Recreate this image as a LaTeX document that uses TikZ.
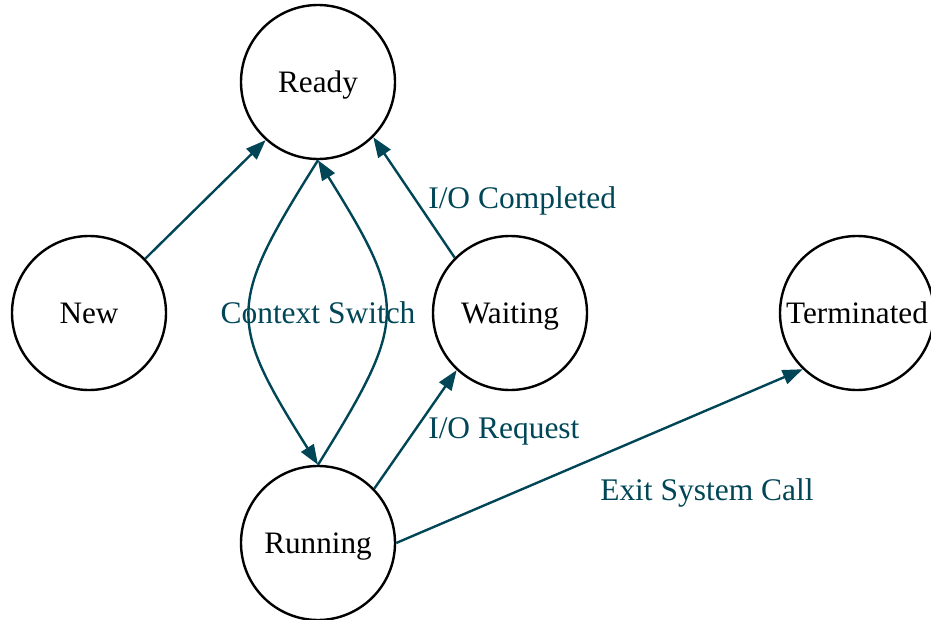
\documentclass[tikz,border=0pt]{standalone}
\usepackage{fontspec}
\setmainfont{Liberation Serif}
\usetikzlibrary{arrows.meta}
\definecolor{edgeteal}{RGB}{0,70,86}
\begin{document}
\begin{tikzpicture}[x=0.75pt,y=-0.75pt,
  state/.style={circle,draw=black,line width=1.8pt,minimum size=154*0.75pt,inner sep=0pt,
    font=\fontsize{23.4}{28}\selectfont,text height=15.4pt,text depth=0pt},
  trans/.style={draw=edgeteal,line width=1.8pt,-{Triangle[length=15pt,width=11pt]}},
  tlabel/.style={text=edgeteal,font=\fontsize{23.6}{28}\selectfont,inner sep=0pt,
    text height=15.4pt,text depth=0pt}]
\useasboundingbox (0,0) rectangle (931,620);

\node[state] (ready) at (318,82) {Ready};
\node[state] (new) at (89,313) {New};
\node[state] (waiting) at (510,313) {Waiting};
\node[state] (term) at (857,313) {Terminated};
\node[state] (running) at (318,543) {Running};

\draw[trans] (new.44) -- (ready.228);
\draw[trans] (waiting.135) -- (ready.-45);
\draw[trans] (ready.270) .. controls (227,305) and (227,320) .. (running.90);
\draw[trans] (running.90) .. controls (408,320) and (408,305) .. (ready.270);
\draw[trans] (running.44) -- (waiting.227);
\draw[trans] (running.0) -- (term.226);

\node[tlabel] (lcs) at (318,313) {Context Switch};
\node[tlabel,anchor=west] (lioc) at (428,198) {I/O Completed};
\node[tlabel,anchor=west] (lior) at (428,428) {I/O Request};
\node[tlabel,anchor=west] (lexit) at (600,490) {Exit System Call};
\end{tikzpicture}
\end{document}
